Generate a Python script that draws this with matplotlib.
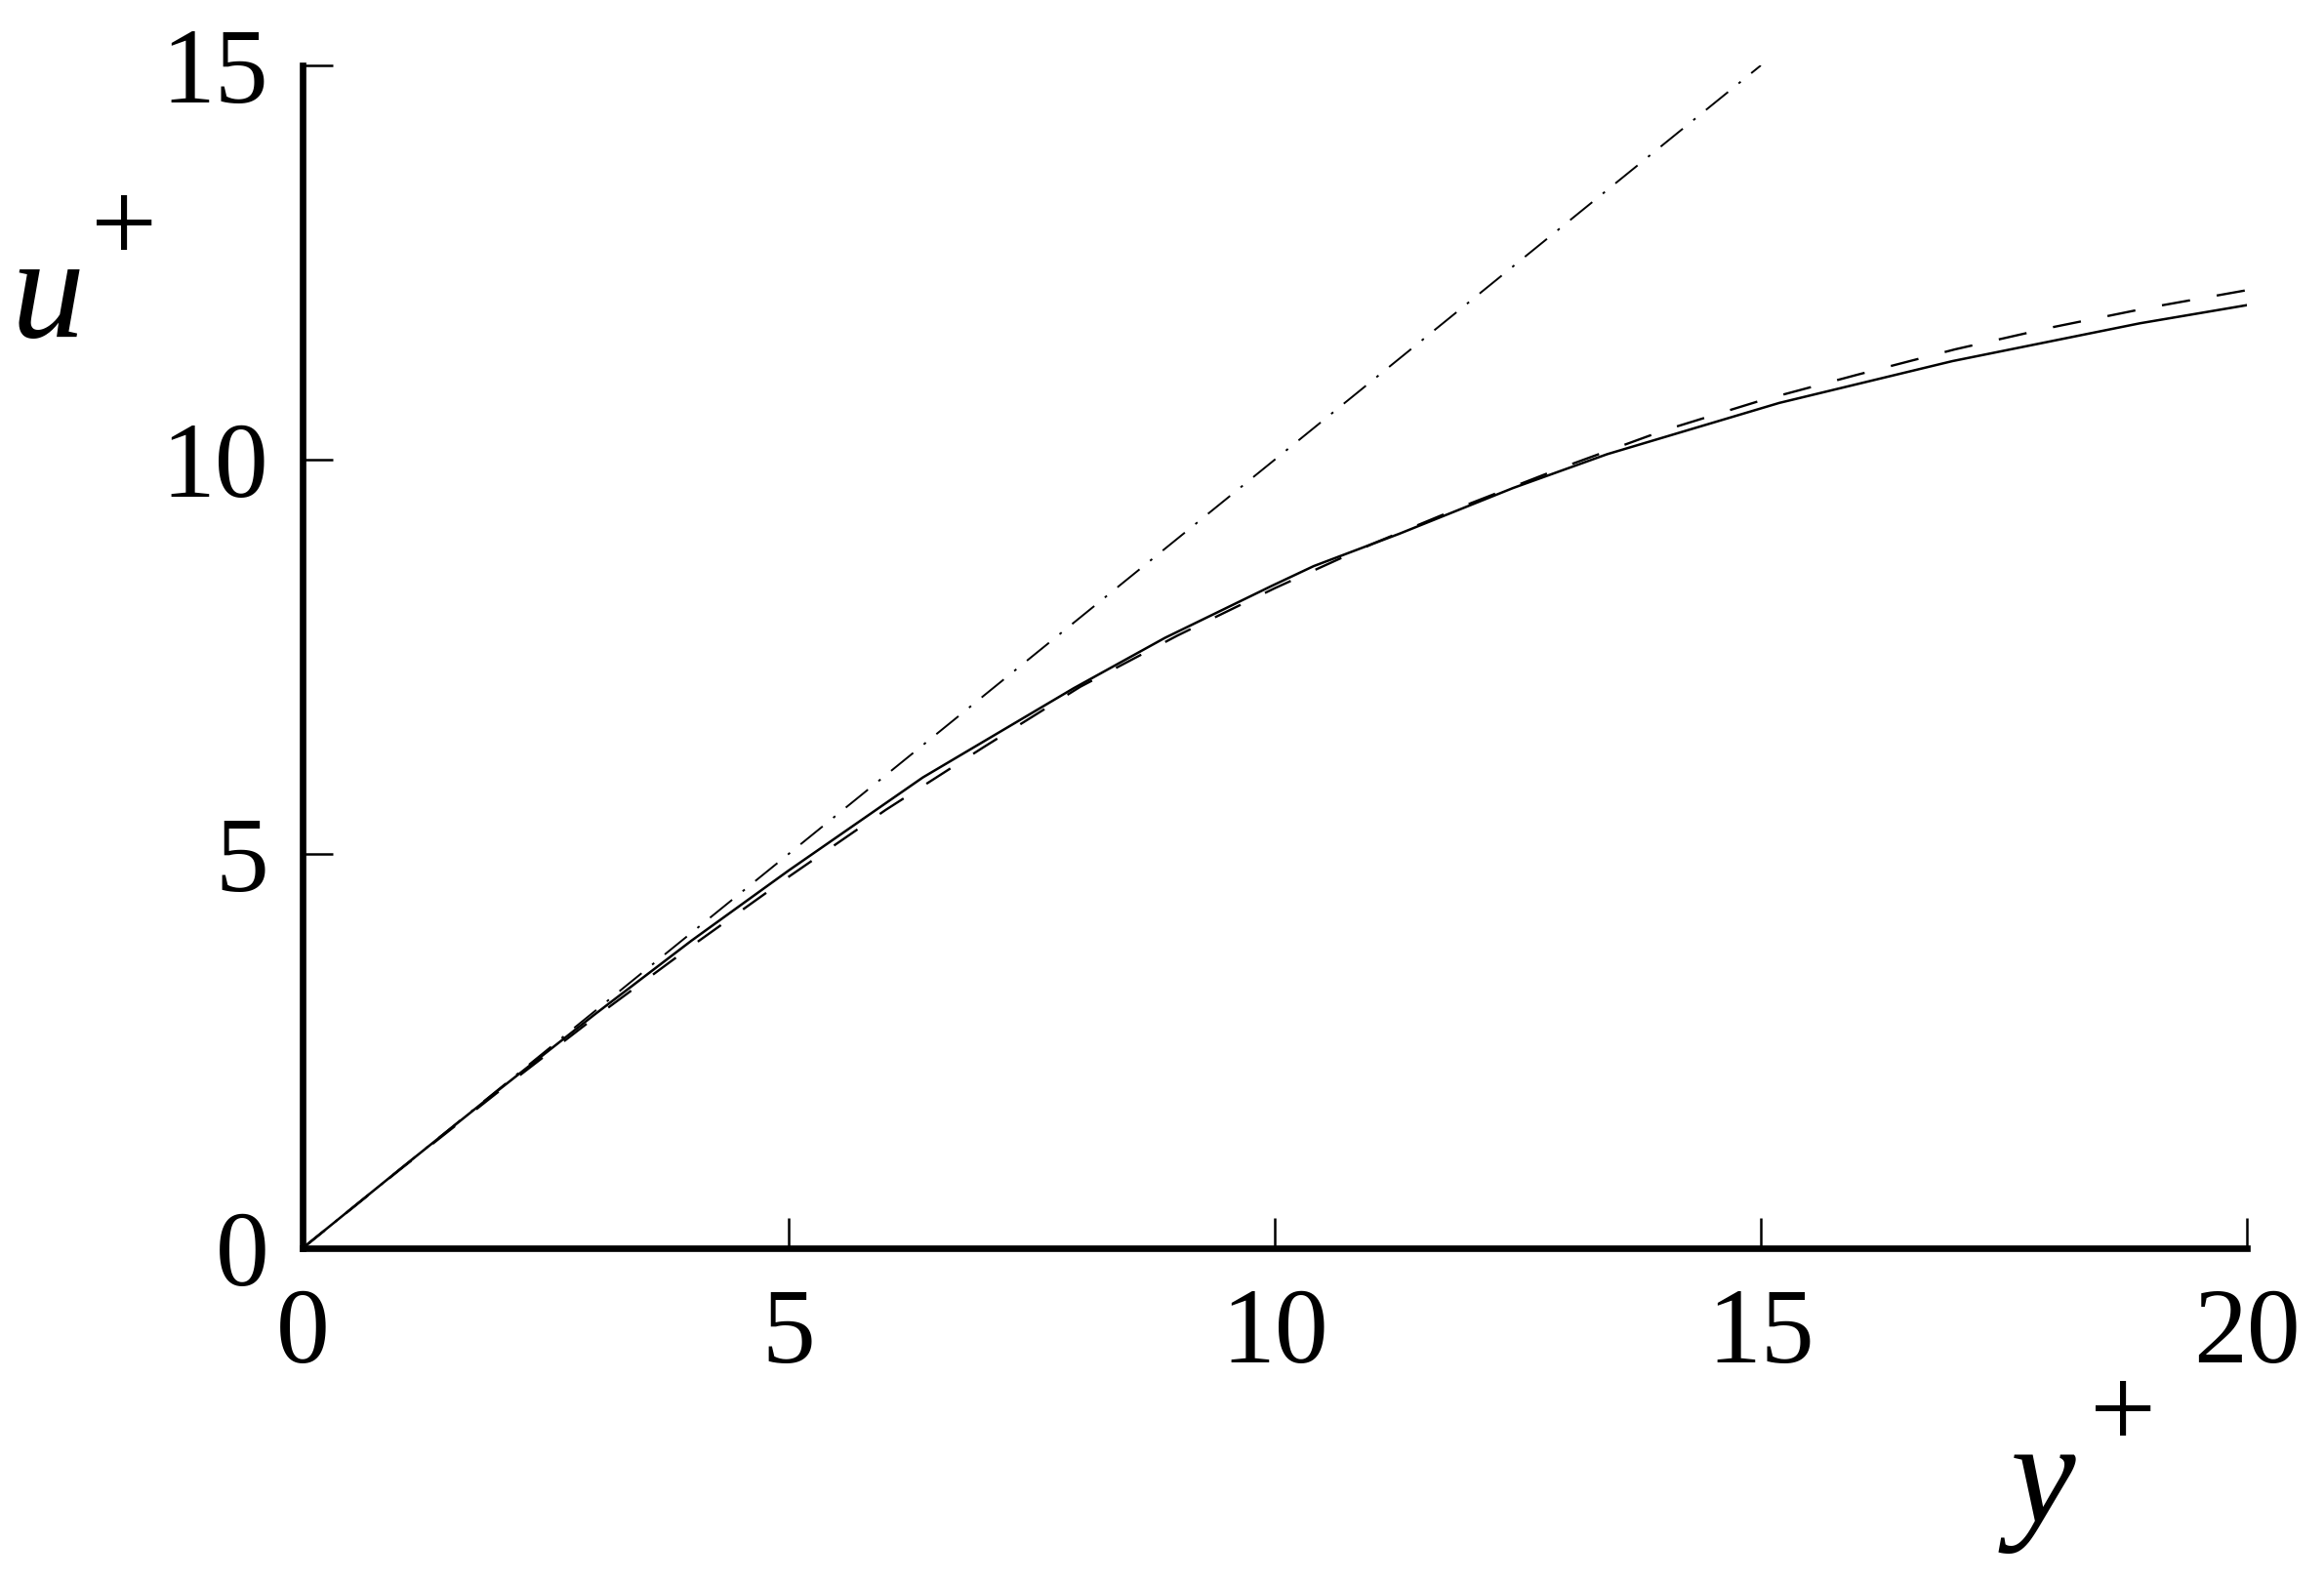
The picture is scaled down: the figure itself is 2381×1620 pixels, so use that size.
import numpy as np
import matplotlib
matplotlib.use("Agg")
import matplotlib.pyplot as plt

# near-wall velocity profile
yplus_dns = [0, 1, 2, 3, 4, 5, 6.38, 7.93, 8.87, 9.97, 10.4, 11.28, 12.45,
             13.42, 15.19, 16.97, 18.9, 20.0]
uplus_dns = [0, 1.0, 1.99, 2.96, 3.9, 4.79, 5.97, 7.10, 7.74, 8.40, 8.65,
             9.06, 9.64, 10.07, 10.72, 11.25, 11.73, 11.96]

yplus_model = [0, 1, 2, 3, 4, 5, 6, 7, 8, 9, 10, 11, 12, 13, 14, 15, 16,
               17, 18, 19, 20]
uplus_model = [0, 0.995, 1.97, 2.92, 3.83, 4.71, 5.56, 6.35, 7.12, 7.77,
               8.37, 8.93, 9.44, 9.92, 10.37, 10.75, 11.08, 11.40, 11.68,
               11.93, 12.15]

# viscous sublayer u+ = y+
yplus_lin = [0, 15]
uplus_lin = [0, 15]

xticks = [0, 5, 10, 15, 20]
yticks = [0, 5, 10, 15]

plt.rcParams['font.family'] = ['Liberation Serif', 'DejaVu Serif']
plt.rcParams['lines.scale_dashes'] = False

W, H = 2381, 1620
fig = plt.figure(figsize=(W / 100, H / 100), dpi=100)
ax = fig.add_axes([0.1302, 0.2105, 0.9668 - 0.1302, 0.9586 - 0.2105])

ax.plot(yplus_dns, uplus_dns, color='k', lw=1.8, ls='-')
ax.plot(yplus_model, uplus_model, color='k', lw=1.7, ls=(0, (21, 20)))
ax.plot(yplus_lin, uplus_lin, color='k', lw=1.4, ls=(0, (21, 10, 2, 10)))

ax.set_xlim(0, 20)
ax.set_ylim(0, 15)
ax.set_xticks(xticks)
ax.set_yticks(yticks)

for s in ['top', 'right']:
    ax.spines[s].set_visible(False)
for s in ['left', 'bottom']:
    ax.spines[s].set_linewidth(4.8)

ax.tick_params(direction='in', length=22, width=1.8, labelsize=79)
ax.tick_params(axis='x', pad=29)
ax.tick_params(axis='y', pad=25)

# axis labels: italic letter with a large upright plus
fig.text(12 / W, 1 - 345 / H, 'u', fontsize=108, style='italic',
         ha='left', va='baseline')
fig.text(93 / W, 1 - 268 / H, '+', fontsize=87, ha='left', va='baseline')
fig.text(2060 / W, 1 - 1560 / H, 'y', fontsize=108, style='italic',
         ha='left', va='baseline')
fig.text(2141 / W, 1 - 1483 / H, '+', fontsize=87, ha='left', va='baseline')

fig.savefig('out.png', dpi=100, facecolor='white')
